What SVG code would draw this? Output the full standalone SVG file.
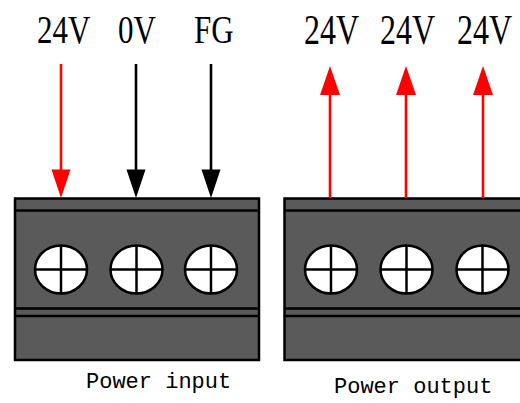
<svg xmlns="http://www.w3.org/2000/svg" width="520" height="403" viewBox="0 0 520 403">
<style>
.body{fill:#5a5a5a;stroke:#000;stroke-width:2.5}
.ln{stroke:#000;stroke-width:2.5;fill:none}
.screw{fill:#fff;stroke:#000;stroke-width:2.5}
.lbl{font-family:"Liberation Serif",serif;font-size:31px;fill:#000}
.lbl2{font-family:"Liberation Serif",serif;font-size:32px;fill:#000}
.cap{font-family:"Liberation Mono",monospace;font-size:22px;fill:#000}
.wr{stroke:#f00;stroke-width:2.6}
.wk{stroke:#000;stroke-width:2.6}
</style>
<defs>
<g id="screw">
<ellipse class="screw" cx="0" cy="0" rx="26" ry="24"/>
<line class="ln" x1="-26" y1="0" x2="26" y2="0"/>
<line class="ln" x1="0" y1="-24" x2="0" y2="24"/>
</g>
</defs>
<g id="input-block">
<rect class="body" x="15" y="198.5" width="244" height="161.5"/>
<line class="ln" x1="15" y1="210.5" x2="259" y2="210.5"/>
<line class="ln" x1="15" y1="308.5" x2="259" y2="308.5"/>
<line class="ln" x1="15" y1="316" x2="259" y2="316"/>
<use href="#screw" x="61" y="269.5"/>
<use href="#screw" x="136.5" y="269.5"/>
<use href="#screw" x="211" y="269.5"/>
<text class="cap" x="86" y="388">Power input</text>
</g>
<g id="output-block">
<rect class="body" x="284.5" y="198.5" width="250" height="161.5"/>
<line class="ln" x1="284.5" y1="210.5" x2="530" y2="210.5"/>
<line class="ln" x1="284.5" y1="308.5" x2="530" y2="308.5"/>
<line class="ln" x1="284.5" y1="316" x2="530" y2="316"/>
<use href="#screw" x="331" y="269.5"/>
<use href="#screw" x="406.5" y="269.5"/>
<use href="#screw" x="482.5" y="269.5"/>
<text class="cap" x="334" y="393">Power output</text>
</g>
<g id="labels">
<text class="lbl" transform="translate(37,43) scale(1,1.32)">24V</text>
<text class="lbl" transform="translate(118,43) scale(1,1.32)">0V</text>
<text class="lbl" transform="translate(194,43) scale(1,1.32)">FG</text>
<text class="lbl2" transform="translate(304,43.5) scale(1,1.3)">24V</text>
<text class="lbl2" transform="translate(380,43.5) scale(1,1.3)">24V</text>
<text class="lbl2" transform="translate(457,43.5) scale(1,1.3)">24V</text>
</g>
<g id="connectors">
<line class="wr" x1="61" y1="64" x2="61" y2="172"/>
<polygon fill="#f00" points="51.5,169.5 70.5,169.5 61,198"/>
<line class="wk" x1="136" y1="64" x2="136" y2="172"/>
<polygon fill="#000" points="126.5,169.5 145.5,169.5 136,198"/>
<line class="wk" x1="211" y1="64" x2="211" y2="172"/>
<polygon fill="#000" points="201.5,169.5 220.5,169.5 211,198"/>
<line class="wr" x1="330" y1="92" x2="330" y2="198"/>
<polygon fill="#f00" points="320,95 340,95 330,66"/>
<line class="wr" x1="406" y1="92" x2="406" y2="198"/>
<polygon fill="#f00" points="396,95 416,95 406,66"/>
<line class="wr" x1="483" y1="92" x2="483" y2="198"/>
<polygon fill="#f00" points="473,95 493,95 483,66"/>
</g>
</svg>
